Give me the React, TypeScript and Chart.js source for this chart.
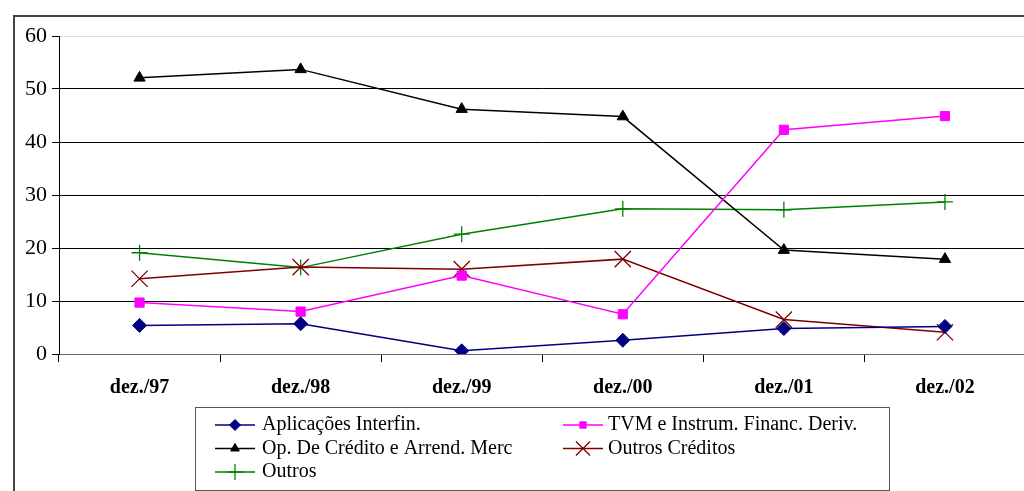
import React, { useEffect, useRef } from 'react';
import { Chart, registerables } from 'chart.js';
import { drawPoint } from 'chart.js/helpers';

Chart.register(...registerables);

// Periods and series shares (%)
const categories = ['dez./97', 'dez./98', 'dez./99', 'dez./00', 'dez./01', 'dez./02'];
const aplicacoes = [5.4, 5.7, 0.6, 2.6, 4.8, 5.2];
const tvm = [9.7, 8.0, 14.8, 7.5, 42.3, 44.9];
const opCredito = [52.1, 53.7, 46.2, 44.8, 19.6, 17.9];
const outrosCreditos = [14.2, 16.4, 16.0, 17.9, 6.5, 4.1];
const outros = [19.1, 16.3, 22.6, 27.4, 27.2, 28.7];
const yTickValues = [0, 10, 20, 30, 40, 50, 60];

const SERIF = '"Liberation Serif", "Times New Roman", serif';

type SeriesDef = {
  label: string;
  data: number[];
  color: string;
  style: string;
  radius: number;
  legendRadius: number;
  pointBorder: number;
};

const series: SeriesDef[] = [
  { label: 'Aplicações Interfin.', data: aplicacoes, color: '#000080', style: 'rectRot', radius: 7, legendRadius: 5.5, pointBorder: 1 },
  { label: 'TVM e Instrum. Financ. Deriv.', data: tvm, color: '#FF00FF', style: 'rect', radius: 6.5, legendRadius: 4.5, pointBorder: 1 },
  { label: 'Op. De Crédito e Arrend. Merc', data: opCredito, color: '#000000', style: 'triangle', radius: 6.5, legendRadius: 5, pointBorder: 1 },
  { label: 'Outros Créditos', data: outrosCreditos, color: '#800000', style: 'crossRot', radius: 11.5, legendRadius: 10, pointBorder: 1.3 },
  { label: 'Outros', data: outros, color: '#008000', style: 'cross', radius: 8, legendRadius: 8, pointBorder: 1.3 },
];

// Boxed two-column legend under the plot
const boxedLegend = {
  id: 'boxedLegend',
  afterDraw(chart: any) {
    const ctx = chart.ctx as CanvasRenderingContext2D;
    ctx.save();
    // figure frame
    ctx.strokeStyle = '#444';
    ctx.lineWidth = 2;
    ctx.strokeRect(14, 16, 2000, 2000);

    // legend frame
    ctx.strokeStyle = '#555';
    ctx.lineWidth = 1;
    ctx.strokeRect(195.5, 407.5, 694, 83);

    const colLine = [215, 563];
    const colText = [262, 608];
    const rowY = [425, 448.5, 472];
    ctx.font = `20px ${SERIF}`;
    ctx.textBaseline = 'middle';
    ctx.textAlign = 'left';
    series.forEach((s, i) => {
      const col = i % 2;
      const row = Math.floor(i / 2);
      const y = rowY[row];
      const x0 = colLine[col];
      ctx.strokeStyle = s.color;
      ctx.lineWidth = 1.5;
      ctx.beginPath();
      ctx.moveTo(x0, y);
      ctx.lineTo(x0 + 40, y);
      ctx.stroke();
      ctx.fillStyle = s.color;
      ctx.strokeStyle = s.color;
      ctx.lineWidth = s.pointBorder;
      drawPoint(ctx, { pointStyle: s.style as any, rotation: 0, radius: s.legendRadius, borderWidth: s.pointBorder }, x0 + 20, y);
      ctx.fillStyle = '#000';
      ctx.fillText(s.label, colText[col], y);
    });
    ctx.restore();
  },
};

export default function App() {
  const canvasRef = useRef<HTMLCanvasElement | null>(null);

  useEffect(() => {
    const canvas = canvasRef.current;
    if (!canvas) return;
    const chart = new Chart(canvas, {
      type: 'line',
      data: {
        labels: categories,
        datasets: series.map((s) => ({
          label: s.label,
          data: s.data,
          borderColor: s.color,
          backgroundColor: s.color,
          borderWidth: 1.5,
          tension: 0,
          fill: false,
          pointStyle: s.style as any,
          pointRadius: s.radius,
          pointBorderWidth: s.pointBorder,
          pointBorderColor: s.color,
          pointBackgroundColor: s.color,
        })),
      },
      options: {
        responsive: false,
        animation: false,
        devicePixelRatio: 1,
        layout: { padding: { top: 36, right: 14.5, bottom: 0, left: 0 } },
        plugins: {
          legend: { display: false },
          tooltip: { enabled: false },
        },
        scales: {
          x: {
            offset: true,
            afterFit: (scale: any) => {
              scale.height = 137;
            },
            grid: {
              offset: true,
              drawOnChartArea: false,
              drawTicks: true,
              tickLength: 8,
              tickColor: '#000',
              color: '#000',
            },
            border: { display: true, color: '#666', width: 1 },
            ticks: {
              color: '#000',
              padding: 14,
              maxRotation: 0,
              font: { family: SERIF, size: 20, weight: 'bold' },
            },
          },
          y: {
            min: 0,
            max: 60,
            afterFit: (scale: any) => {
              scale.width = 59;
            },
            afterBuildTicks: (scale: any) => {
              scale.ticks = yTickValues.map((v) => ({ value: v }));
            },
            grid: {
              color: (c: any) => (c.tick && c.tick.value === 60 ? '#dcdcdc' : c.tick && c.tick.value === 0 ? '#666' : '#000'),
              tickColor: '#000',
              tickLength: 7,
              lineWidth: 1,
            },
            border: { display: true, color: '#000', width: 1 },
            ticks: {
              color: '#000',
              padding: 5,
              font: { family: SERIF, size: 22 },
            },
          },
        },
      },
      plugins: [boxedLegend],
    });
    return () => chart.destroy();
  }, []);

  return (
    <div style={{ position: 'fixed', left: 0, top: 0, width: 1024, height: 491, overflow: 'hidden', background: '#fff' }}>
      <canvas ref={canvasRef} width={1040} height={491} style={{ display: 'block' }} />
    </div>
  );
}
